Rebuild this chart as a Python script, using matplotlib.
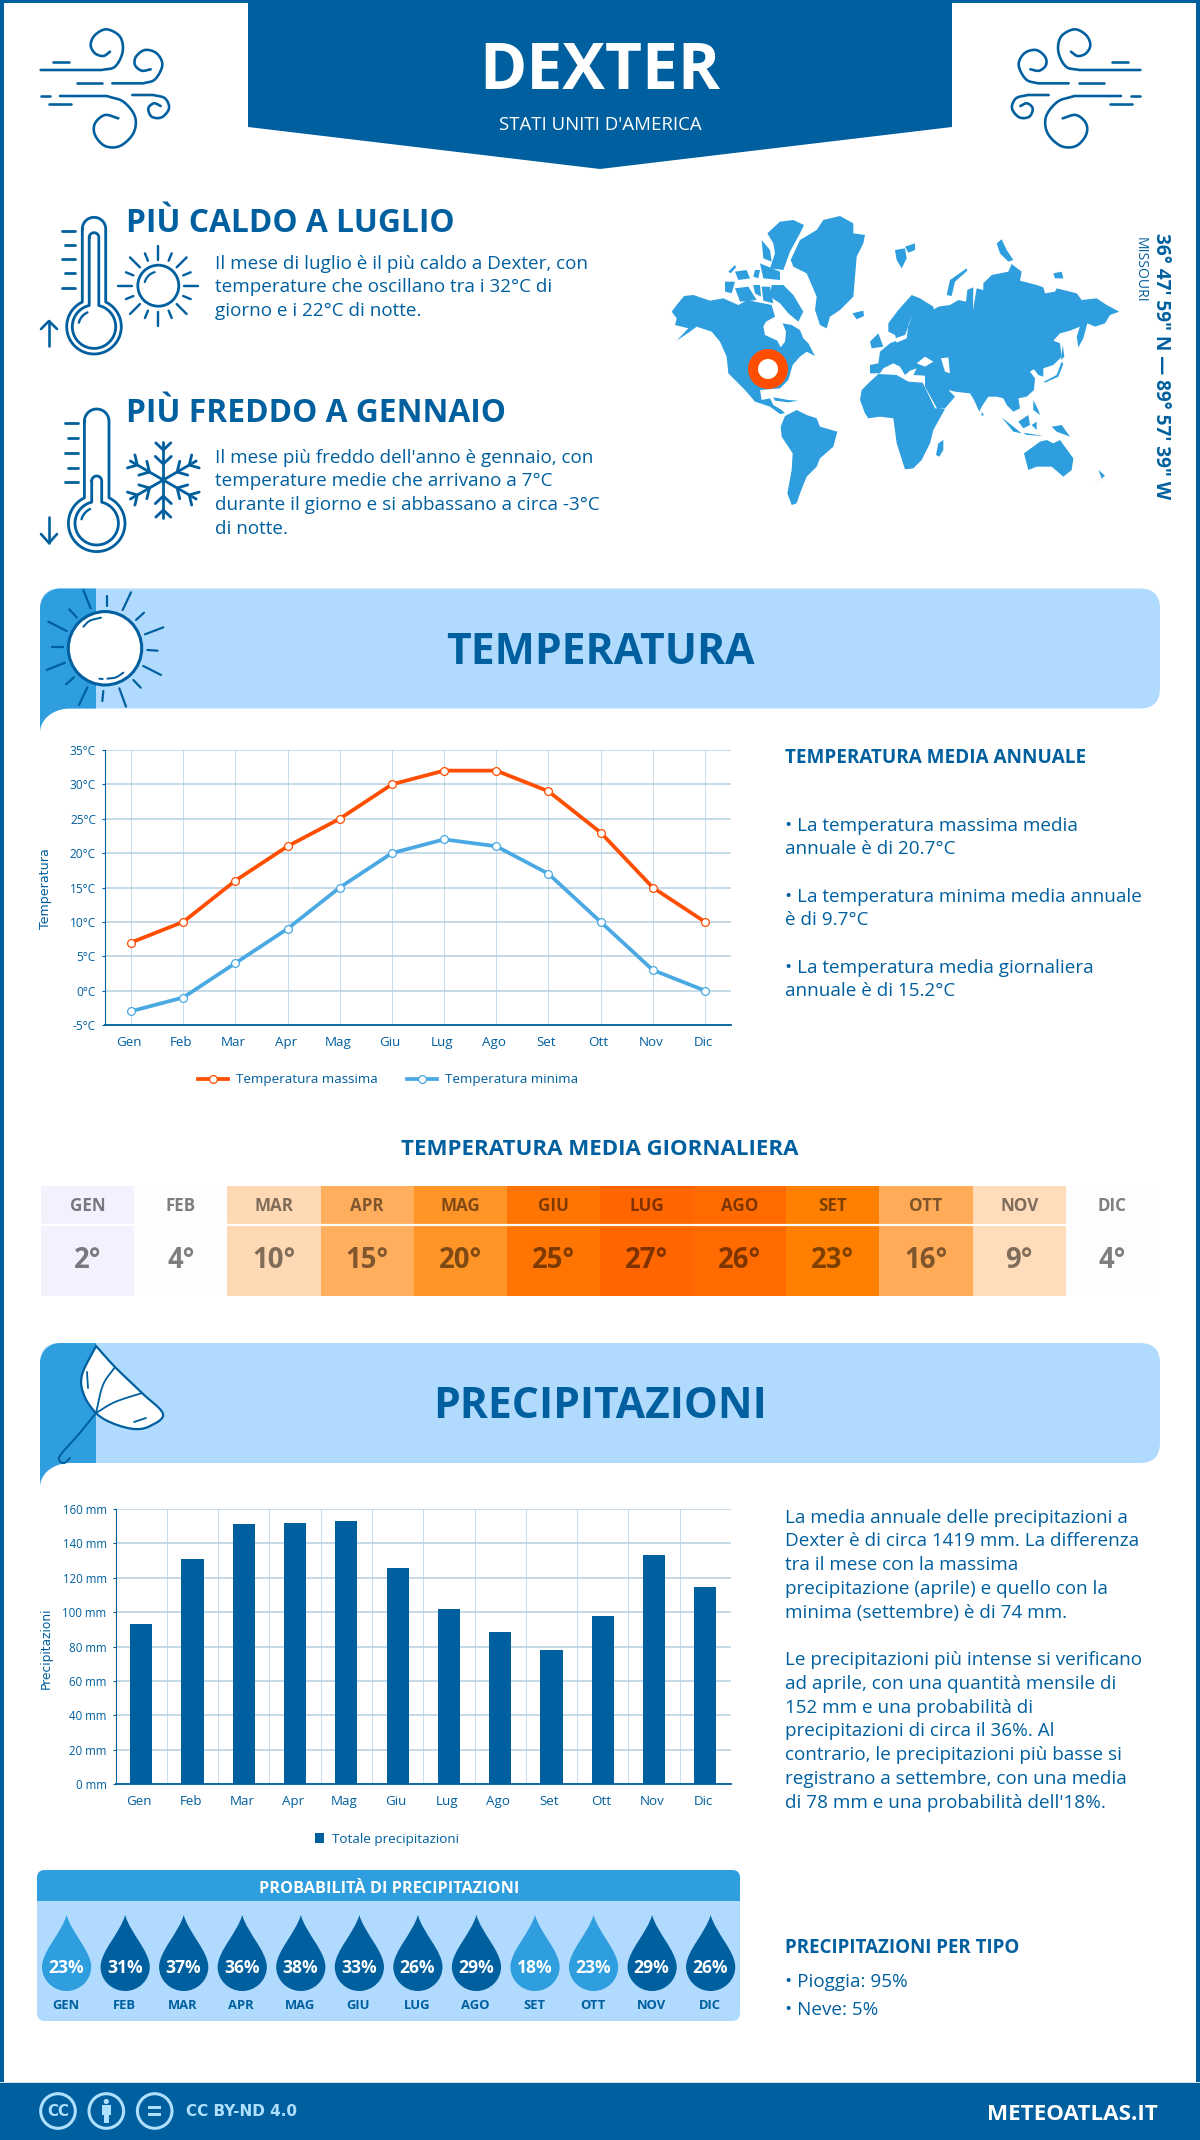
# %%
import numpy as np
import matplotlib

matplotlib.use("Agg")
import matplotlib.pyplot as plt
from matplotlib.colors import LinearSegmentedColormap, Normalize
from matplotlib.patches import Circle, FancyBboxPatch, PathPatch, Polygon, Rectangle
from matplotlib.path import Path
from matplotlib.transforms import ScaledTranslation

plt.rcParams["font.family"] = ["Open Sans", "DejaVu Sans"]

# %% data
months = ["Gen", "Feb", "Mar", "Apr", "Mag", "Giu", "Lug", "Ago", "Set", "Ott", "Nov", "Dic"]
months_upper = ["GEN", "FEB", "MAR", "APR", "MAG", "GIU", "LUG", "AGO", "SET", "OTT", "NOV", "DIC"]
temp_max = [7, 10, 16, 21, 25, 30, 32, 32, 29, 23, 15, 10]
temp_min = [-3, -1, 4, 9, 15, 20, 22, 21, 17, 10, 3, 0]
temp_ticks = [-5, 0, 5, 10, 15, 20, 25, 30, 35]
temp_daily = [2, 4, 10, 15, 20, 25, 27, 26, 23, 16, 9, 4]
rain_mm = [93.3, 131, 151.5, 152, 153.2, 125.9, 102, 88.6, 78, 98, 133.4, 114.8]
rain_ticks = [0, 20, 40, 60, 80, 100, 120, 140, 160]
rain_prob = [23, 31, 37, 36, 38, 33, 26, 29, 18, 23, 29, 26]

heat_values = [2, 4, 9, 10, 15, 16, 20, 23, 25, 26, 27]
heat_colors = ["#f2f2ff", "#fdfdff", "#ffdcb9", "#ffd9b4", "#ffae5e", "#ffab58",
               "#ff9428", "#ff8000", "#ff7503", "#ff6b00", "#ff6600"]

hot_lines = ["Il mese di luglio è il più caldo a Dexter, con",
             "temperature che oscillano tra i 32°C di",
             "giorno e i 22°C di notte."]
cold_lines = ["Il mese più freddo dell'anno è gennaio, con",
              "temperature medie che arrivano a 7°C",
              "durante il giorno e si abbassano a circa -3°C",
              "di notte."]
temp_notes = [(831, "• La temperatura massima media"), (854, "annuale è di 20.7°C"),
              (902, "• La temperatura minima media annuale"), (925, "è di 9.7°C"),
              (973, "• La temperatura media giornaliera"), (996, "annuale è di 15.2°C")]
rain_notes = [(1523, "La media annuale delle precipitazioni a"),
              (1546, "Dexter è di circa 1419 mm. La differenza"),
              (1570, "tra il mese con la massima"),
              (1594, "precipitazione (aprile) e quello con la"),
              (1618, "minima (settembre) è di 74 mm."),
              (1665, "Le precipitazioni più intense si verificano"),
              (1689, "ad aprile, con una quantità mensile di"),
              (1713, "152 mm e una probabilità di"),
              (1736, "precipitazioni di circa il 36%. Al"),
              (1760, "contrario, le precipitazioni più basse si"),
              (1784, "registrano a settembre, con una media"),
              (1808, "di 78 mm e una probabilità dell'18%.")]

# %% colours and page
DARK = "#005f9e"
MID = "#2e9ede"
LIGHT = "#b0dbff"
ORANGE = "#ff4e00"
LINE_BLUE = "#4aa9e2"
GRID = "#b5cfe2"
GRID_V = "#c8dcea"
W, H = 1200, 2140

fig = plt.figure(figsize=(W / 100, H / 100), dpi=100, facecolor="white")
bg = fig.add_axes([0, 0, 1, 1])
bg.set_xlim(0, W)
bg.set_ylim(H, 0)
bg.axis("off")


def px_axes(x0, y0, x1, y1):
    return fig.add_axes([x0 / W, 1 - y1 / H, (x1 - x0) / W, (y1 - y0) / H])


def txt(x, y, s, px, color=DARK, weight="normal", ha="left", va="baseline", ax=None, **kw):
    return (ax or bg).text(x, y, s, fontsize=px * 0.72, color=color, fontweight=weight, ha=ha, va=va, **kw)


def smooth(pts, n=14):
    # catmull-rom through the points, for the curly icons
    p = np.array(pts, dtype=float)
    p = np.vstack([2 * p[0] - p[1], p, 2 * p[-1] - p[-2]])
    out = []
    for i in range(1, len(p) - 2):
        for t in np.linspace(0, 1, n, endpoint=False):
            out.append(0.5 * (2 * p[i] + (p[i + 1] - p[i - 1]) * t
                              + (2 * p[i - 1] - 5 * p[i] + 4 * p[i + 1] - p[i + 2]) * t ** 2
                              + (3 * p[i] - p[i - 1] - 3 * p[i + 1] + p[i + 2]) * t ** 3))
    out.append(p[-2])
    return np.array(out)


def stroke(pts, color=DARK, lw=2.6, zorder=3):
    pts = np.asarray(pts, dtype=float)
    bg.plot(pts[:, 0], pts[:, 1], color=color, lw=lw * 0.72, solid_capstyle="round",
            solid_joinstyle="round", zorder=zorder)


def style_chart(ax, tick_size):
    ax.set_axisbelow(True)
    ax.tick_params(axis="y", labelsize=tick_size, colors=DARK, length=2.5, width=0.8, pad=4)
    ax.tick_params(axis="x", which="both", labelsize=9.6, colors=DARK, length=0, pad=8)
    for s in ["top", "right"]:
        ax.spines[s].set_visible(False)
    ax.spines["bottom"].set_color(DARK)
    ax.spines["bottom"].set_linewidth(1.3)
    ax.spines["left"].set_color(DARK)
    ax.spines["left"].set_linewidth(0.8)
    shift = ScaledTranslation(-2 / 100, 0, fig.dpi_scale_trans)
    for lab in ax.get_xticklabels():
        lab.set_transform(lab.get_transform() + shift)


# frame, banner, footer
bg.add_patch(Rectangle((0, 0), 4, H, color=DARK, lw=0))
bg.add_patch(Rectangle((W - 4, 0), 4, H, color=DARK, lw=0))
bg.add_patch(Rectangle((0, 0), W, 3, color=DARK, lw=0))
bg.add_patch(Polygon([(248, 0), (952, 0), (952, 127), (600, 169), (248, 127)], color=DARK, lw=0))
bg.add_patch(Rectangle((0, 2082), W, 2, color="#d5dfe6", lw=0))
bg.add_patch(Rectangle((0, 2083), W, 57, color=DARK, lw=0))
txt(600, 89, "DEXTER", 64, "white", "bold", ha="center")
txt(600, 130, "STATI UNITI D'AMERICA", 18.7, "white", ha="center")


# %% wind icons
def wind(f):
    parts = [
        [(32, 150), (215, 150), (255, 140), (278, 95), (270, 50), (230, 28), (195, 45), (182, 75), (195, 100), (220, 108), (240, 95)],
        [(247, 190), (340, 190), (375, 178), (397, 135), (380, 100), (345, 90), (318, 110), (315, 135), (335, 152), (362, 148)],
        [(90, 228), (230, 228), (280, 245), (315, 290), (310, 340), (270, 378), (225, 378), (195, 345), (195, 310), (225, 285), (265, 295)],
        [(307, 225), (370, 225), (405, 235), (417, 265), (395, 292), (365, 290), (355, 265), (372, 250), (392, 258)],
    ]
    bars = [[(70, 125), (118, 125)], [(140, 190), (215, 190)], [(32, 228), (60, 228)], [(57, 252), (123, 252)]]
    for part in parts:
        line = smooth(part[1:])
        line = np.vstack([part[0], line]) / 3 + [30, 20]
        stroke(np.c_[f(line[:, 0]), line[:, 1]])
    for bar in bars:
        line = np.array(bar) / 3 + [30, 20]
        stroke(np.c_[f(line[:, 0]), line[:, 1]])


wind(lambda x: x)
wind(lambda x: 1181 - x)


# %% thermometers, sun, snowflake
def therm_outline(cx, top, half, cy, r):
    a = np.arcsin(half / r)
    arc_top = np.linspace(np.pi, 0, 24)
    xs = list(cx + half * np.cos(arc_top))
    ys = list(top + half - half * np.sin(arc_top))
    bulb = np.linspace(a, 2 * np.pi - a, 70)
    xs += list(cx + r * np.sin(bulb))
    ys += list(cy - r * np.cos(bulb))
    xs.append(xs[0])
    ys.append(ys[0])
    return np.c_[xs, ys]


def thermometer(cx, top, half, cy, r, itop, ihalf, ir, tick_ys, arrow_up):
    stroke(therm_outline(cx, top, half, cy, r), lw=2.8)
    stroke(therm_outline(cx, itop, ihalf, cy, ir), lw=2.8)
    arc = np.linspace(np.radians(-75), np.radians(-25), 12)
    stroke(np.c_[cx + (ir - 6) * np.cos(arc + np.pi / -2), cy + (ir - 6) * np.sin(arc + np.pi / -2)], lw=2.4)
    for i, y in enumerate(tick_ys):
        stroke([(cx - 32 if i % 2 == 0 else cx - 29, y), (cx - 19, y)], lw=2.8)
    ax_x = 49
    if arrow_up:
        stroke([(ax_x, 346), (ax_x, 321)])
        stroke([(ax_x - 8, 329), (ax_x, 321), (ax_x + 8, 329)])
    else:
        stroke([(ax_x, 517), (ax_x, 543)])
        stroke([(ax_x - 8, 534), (ax_x, 543), (ax_x + 8, 534)])


thermometer(94, 217.3, 11.7, 326.7, 27.3, 232.7, 4.8, 21.7, [231, 245, 259, 273, 288], True)
thermometer(96.7, 409, 12.3, 523.3, 28.3, 476, 5, 21.7, [423, 438, 453, 468, 482], False)

# small sun next to the hot thermometer
sun_c = np.array([158.3, 285.7])
bg.add_patch(Circle(sun_c, 20.5, fill=False, ec=DARK, lw=2.0))
arc = np.radians(np.linspace(195, 255, 10))
stroke(sun_c + 14 * np.c_[np.cos(arc), np.sin(arc)], lw=2.2)
for k in range(16):
    ang = np.radians(k * 22.5)
    r0, r1 = (26, 40) if k % 2 == 0 else (27, 35)
    u = np.array([np.cos(ang), np.sin(ang)])
    stroke([sun_c + r0 * u, sun_c + r1 * u], lw=2.4)

# snowflake
snow_c = np.array([163.3, 480])
for k in range(6):
    ang = np.radians(90 + k * 60)
    u = np.array([np.cos(ang), np.sin(ang)])
    v = np.array([-u[1], u[0]])
    stroke([snow_c, snow_c + 38 * u], lw=2.8)
    for dist, size in [(30, 7.5), (16, 8)]:
        base = snow_c + dist * u
        stroke([base - size * v + size * 0.95 * u, base, base + size * v + size * 0.95 * u], lw=2.8)

txt(126, 232, "PIÙ CALDO A LUGLIO", 31.8, weight="bold")
txt(126, 422, "PIÙ FREDDO A GENNAIO", 31.8, weight="bold")
for y, s in zip([269, 292, 316], hot_lines):
    txt(215, y, s, 18.9)
for y, s in zip([463, 486, 510, 534], cold_lines):
    txt(215, y, s, 18.9)

# %% world map, shapes traced by eye in zoomed map coordinates
amer = [
    [(35, 305), (50, 285), (72, 258), (100, 255), (150, 272), (190, 265), (235, 285), (262, 270), (300, 278), (335, 285), (345, 320), (318, 335), (310, 350), (315, 375), (352, 392), (362, 412), (375, 395), (378, 365), (368, 340), (395, 345), (420, 360), (430, 385), (445, 400), (465, 438), (440, 425), (420, 440), (398, 465), (385, 510), (360, 535), (300, 540), (305, 570), (330, 565), (340, 585), (365, 600), (375, 610), (360, 612), (330, 590), (285, 575), (255, 540), (225, 510), (205, 490), (200, 440), (180, 395), (155, 365), (110, 350), (90, 365), (50, 392), (85, 355), (45, 345), (50, 325)],
    [(362, 650), (375, 618), (410, 600), (440, 615), (470, 625), (480, 650), (532, 665), (520, 710), (480, 745), (470, 770), (440, 800), (420, 850), (410, 880), (395, 885), (382, 850), (395, 780), (398, 730), (365, 680)],
    [(392, 150), (420, 90), (470, 60), (490, 30), (540, 18), (580, 40), (580, 70), (615, 75), (610, 100), (590, 140), (580, 260), (540, 300), (510, 320), (500, 355), (480, 345), (465, 300), (470, 260), (440, 190), (400, 170)],
    [(322, 70), (360, 35), (400, 30), (432, 45), (420, 70), (390, 125), (370, 180), (330, 175), (345, 130), (340, 100)],
    [(335, 225), (370, 225), (400, 255), (430, 305), (415, 335), (385, 310), (360, 280), (330, 260)],
    [(305, 230), (330, 230), (340, 280), (310, 272)],
    [(225, 185), (260, 180), (270, 205), (235, 210)],
    [(195, 215), (225, 215), (215, 250), (195, 245)],
    [(225, 235), (265, 230), (290, 270), (240, 275)],
    [(285, 180), (300, 180), (295, 205), (280, 200)],
    [(305, 90), (330, 120), (335, 155), (310, 145)],
    [(205, 185), (225, 165), (228, 172), (212, 190)],
    [(300, 160), (360, 185), (360, 210), (310, 205)],
    [(280, 225), (300, 225), (303, 260), (285, 250)],
    [(340, 562), (385, 570), (415, 572), (385, 577), (345, 572)],
    [(577, 310), (610, 302), (612, 318), (590, 328)],
]
asia = [
    [(-30, 490), (-30, 465), (-5, 460), (0, 425), (30, 400), (50, 392), (45, 375), (25, 365), (25, 340), (55, 300), (95, 255), (120, 265), (160, 290), (163, 310), (150, 322), (135, 320), (150, 305), (175, 290), (210, 285), (235, 270), (258, 275), (262, 240), (280, 232), (279, 300), (290, 235), (310, 240), (310, 220), (335, 195), (385, 185), (395, 162), (425, 185), (420, 212), (470, 225), (490, 232), (495, 250), (525, 245), (530, 235), (590, 250), (605, 270), (650, 265), (680, 285), (718, 305), (690, 315), (675, 340), (645, 350), (622, 340), (610, 385), (595, 412), (590, 380), (600, 350), (570, 362), (540, 370), (520, 392), (540, 400), (545, 440), (520, 465), (490, 475), (490, 500), (475, 495), (462, 478), (450, 485), (465, 505), (462, 540), (440, 560), (415, 565), (420, 595), (400, 605), (380, 585), (370, 565), (350, 560), (325, 560), (305, 590), (298, 605), (282, 570), (270, 550), (225, 545), (205, 540), (190, 525), (225, 560), (195, 595), (172, 597), (135, 530), (135, 497), (100, 495), (110, 475), (90, 482), (75, 495), (60, 470), (40, 460), (10, 475), (0, 490)],
    [(-60, 570), (-55, 540), (-30, 515), (-5, 492), (50, 495), (85, 515), (128, 518), (165, 595), (195, 597), (160, 660), (150, 700), (125, 750), (100, 775), (75, 778), (50, 700), (40, 625), (0, 620), (-35, 625), (-45, 610)],
    [(168, 735), (175, 700), (190, 690), (190, 720), (178, 740)],
    [(432, 730), (480, 695), (500, 690), (520, 700), (540, 690), (580, 745), (575, 780), (550, 800), (515, 770), (470, 770), (445, 780)],
    [(632, 835), (660, 810), (675, 797), (655, 780), (665, 805)],
    [(365, 622), (400, 650), (425, 670), (400, 665)],
    [(415, 635), (445, 615), (450, 645), (430, 655)],
    [(430, 668), (490, 678), (440, 675)],
    [(515, 650), (545, 645), (570, 680), (530, 665)],
    [(455, 645), (470, 635), (470, 660)],
    [(460, 570), (475, 600), (480, 615), (460, 600)],
    [(305, 605), (312, 615), (305, 618)],
    [(492, 515), (530, 495), (545, 455), (550, 462), (535, 500), (495, 518)],
    [(548, 405), (553, 440), (543, 450)],
    [(200, 255), (210, 210), (260, 175), (262, 182), (225, 215), (215, 258)],
    [(45, 120), (75, 115), (80, 145), (65, 175), (50, 150)],
    [(75, 110), (105, 100), (105, 120), (85, 128)],
    [(350, 100), (365, 88), (380, 120), (400, 150), (385, 155), (360, 130)],
    [(520, 190), (545, 185), (550, 205), (525, 205)],
    [(-30, 395), (-5, 370), (10, 410), (-25, 415)],
]
seas = [
    [(110, 460), (135, 440), (160, 455), (135, 470)],
    [(183, 445), (205, 442), (210, 490), (195, 485)],
    [(45, 385), (75, 375), (100, 310), (85, 345), (80, 385), (50, 398)],
]
for poly in amer:
    bg.add_patch(Polygon(np.array(poly) / 3 + [660, 210], color=MID, lw=0))
for poly in asia:
    bg.add_patch(Polygon(np.array(poly) / 3 + [880, 210], color=MID, lw=0))
for poly in seas:
    bg.add_patch(Polygon(np.array(poly) / 3 + [880, 210], color="white", lw=0))
bg.add_patch(Circle((768, 369), 20, color=ORANGE, lw=0, zorder=4))
bg.add_patch(Circle((768, 369), 10, color="white", lw=0, zorder=4))
txt(1160.5, 366, "36° 47' 59\" N — 89° 57' 39\" W", 19, weight="bold", rotation=270, ha="center", va="center")
txt(1140, 237, "MISSOURI", 14, rotation=270, ha="center", va="top")


# %% section headers
def section(y0, title):
    y1 = y0 + 120
    bg.add_patch(FancyBboxPatch((40, y0), 1120, 120, boxstyle="round,pad=0,rounding_size=20", color=LIGHT, lw=0))
    corner = np.radians(np.linspace(180, 270, 12))
    top = [(60 + 20 * np.cos(a), y0 + 20 + 20 * np.sin(a)) for a in corner]
    sweep = np.radians(np.linspace(90, 0, 16))
    curve = [(70 - 30 * np.cos(a), y1 + 24 - 24 * np.sin(a)) for a in sweep]
    bg.add_patch(Polygon(top + [(96, y0), (96, y1)] + curve, color=MID, lw=0))
    txt(600, y0 + 75, title, 42.6, weight="bold", ha="center")


section(588.5, "TEMPERATURA")
section(1343, "PRECIPITAZIONI")
bg.add_patch(Circle((105, 648.3), 36.7, fc="white", ec=DARK, lw=2.2, zorder=3))
rays = [((160, 30), (182, 85)), ((118, 88), (140, 112)), ((55, 125), (110, 153)), ((67, 200), (98, 200)),
        ((50, 270), (105, 248)), ((108, 313), (132, 292)), ((147, 375), (172, 322)), ((217, 363), (220, 333)),
        ((268, 325), (288, 380)), ((310, 300), (332, 323)), ((340, 258), (393, 285)), ((352, 210), (383, 212)),
        ((345, 163), (400, 142)), ((318, 120), (342, 98)), ((278, 90), (303, 37)), ((230, 78), (230, 47))]
for a, b in rays:
    stroke(np.array([a, b]) / 3 + [30, 580], lw=2.2)
stroke(np.array([(208, 296), (218, 297)]) / 3 + [30, 580], lw=2.0, zorder=4)
stroke(smooth([(160, 140), (180, 122), (213, 113)]) / 3 + [30, 580], lw=2.0, zorder=4)
stroke(smooth([(232, 296), (258, 292), (280, 278)]) / 3 + [30, 580], lw=2.0, zorder=4)

# umbrella
canopy = smooth([(96, 1346), (115, 1367), (142, 1393), (163, 1414), (150, 1426), (134, 1429), (112, 1423), (96, 1413), (84, 1395), (82, 1375), (96, 1346)])
bg.add_patch(Polygon(canopy, fc="white", ec=DARK, lw=1.6, zorder=3))
stroke(smooth([(96, 1413), (115, 1402), (142, 1393)]), lw=1.8, zorder=4)
stroke(smooth([(115, 1367), (103, 1385), (96, 1413)]), lw=1.8, zorder=4)
stroke(smooth([(96, 1413), (78, 1435), (62, 1453), (59, 1460), (64, 1463), (70, 1458)]), lw=2, zorder=4)
stroke([(87, 1372), (88, 1388)], lw=1.8, zorder=4)
stroke([(134, 1422), (146, 1418)], lw=1.8, zorder=4)

# %% temperature chart
ax = px_axes(105, 750, 731, 1025)
ax.set_xlim(-0.5, 11.5)
ax.set_ylim(-5, 35)
x = np.arange(12)
ax.plot(x, temp_max, color=ORANGE, lw=2.7, marker="o", ms=5.6, mfc="white", mec=ORANGE, mew=0.9,
        clip_on=False, zorder=4, label="Temperatura massima")
ax.plot(x, temp_min, color=LINE_BLUE, lw=2.7, marker="o", ms=5.6, mfc="white", mec=LINE_BLUE, mew=0.9,
        clip_on=False, zorder=4, label="Temperatura minima")
ax.set_xticks(x, months)
ax.set_yticks(temp_ticks, [f"{t}°C" for t in temp_ticks])
ax.grid(axis="y", color=GRID, lw=1.1)
ax.grid(axis="x", color=GRID_V, lw=0.7)
style_chart(ax, 8.6)
txt(46, 889, "Temperatura", 12.6, rotation=90, ha="center", va="center", family="DejaVu Sans")
fig.legend(*ax.get_legend_handles_labels(), loc="center", bbox_to_anchor=(388 / W, 1 - 1080 / H),
           ncol=2, frameon=False, fontsize=9.7, labelcolor=DARK, handlelength=2.2, handletextpad=0.6,
           columnspacing=2.2)

txt(785, 763, "TEMPERATURA MEDIA ANNUALE", 18.9, weight="bold")
for y, s in temp_notes:
    txt(785, y, s, 18.9)

# %% daily temperature table
txt(600, 1155, "TEMPERATURA MEDIA GIORNALIERA", 22.3, weight="bold", ha="center")
ax = px_axes(41, 1186, 1159, 1296)
span = heat_values[-1] - heat_values[0]
cmap = LinearSegmentedColormap.from_list(
    "heat", [((v - heat_values[0]) / span, c) for v, c in zip(heat_values, heat_colors)])
ax.pcolormesh(np.arange(13), [0, 39, 110], np.vstack([temp_daily, temp_daily]), cmap=cmap,
              norm=Normalize(heat_values[0], heat_values[-1]))
ax.set_xlim(0, 12)
ax.set_ylim(110, 0)
ax.axis("off")
ax.axhline(39, color="white", lw=1.6)
for i, (m, t) in enumerate(zip(months_upper, temp_daily)):
    txt(i + 0.5, 20, m, 17, "black", "bold", ha="center", va="center", ax=ax, alpha=0.5)
    txt(i + 0.5, 75, f"{t}°", 27.5, "black", "bold", ha="center", va="center", ax=ax, alpha=0.5)

# %% precipitation chart
ax = px_axes(115.6, 1509, 731, 1784)
ax.set_xlim(-0.5, 11.5)
ax.set_ylim(0, 160)
ax.bar(np.arange(12), rain_mm, width=0.43, color=DARK, zorder=3, label="Totale precipitazioni")
ax.set_xticks(np.arange(12), months)
ax.set_xticks(np.arange(13) - 0.5, minor=True)
ax.set_yticks(rain_ticks, [f"{t} mm" for t in rain_ticks])
ax.grid(axis="y", color=GRID, lw=1.1)
ax.grid(axis="x", which="minor", color=GRID_V, lw=0.7)
style_chart(ax, 8.3)
txt(46, 1648, "Precipitazioni", 12.2, rotation=90, ha="center", va="center", family="DejaVu Sans")
fig.legend(*ax.get_legend_handles_labels(), loc="center", bbox_to_anchor=(387 / W, 1 - 1839 / H),
           frameon=False, fontsize=9.7, labelcolor=DARK, handlelength=0.6, handleheight=0.8, handletextpad=0.6)

for y, s in rain_notes:
    txt(785, y, s, 18.9)

# %% probability panel
panel = FancyBboxPatch((37, 1870), 703, 151, boxstyle="round,pad=0,rounding_size=8", color=LIGHT, lw=0)
bg.add_patch(panel)
head = Rectangle((37, 1870), 703, 31, color=MID, lw=0)
bg.add_patch(head)
head.set_clip_path(panel)
txt(389, 1893, "PROBABILITÀ DI PRECIPITAZIONI", 16.3, "white", "bold", ha="center")

drop_verts = [(0, 0), (5, 18), (24.6, 36), (24.6, 52), (24.6, 65), (13.6, 76), (0, 76),
              (-13.6, 76), (-24.6, 65), (-24.6, 52), (-24.6, 36), (-5, 18), (0, 0)]
drop_codes = [Path.MOVETO] + [Path.CURVE4] * 12
for i, (p, m) in enumerate(zip(rain_prob, months_upper)):
    cx = 66.6 + 58.55 * i
    verts = np.array(drop_verts) + [cx, 1915]
    bg.add_patch(PathPatch(Path(verts, drop_codes), color=MID if p <= 23 else DARK, lw=0))
    txt(cx - 0.5, 1973, f"{p}%", 17.5, "white", "bold", ha="center")
    txt(cx - 1, 2009, m, 13, DARK, "bold", ha="center")

txt(785, 1953, "PRECIPITAZIONI PER TIPO", 18.8, weight="bold")
txt(785, 1987, "• Pioggia: 95%", 18.9)
txt(785, 2015, "• Neve: 5%", 18.9)

# %% footer
CC = "#b0e0ff"
for cx in [58, 106.3, 154.7]:
    bg.add_patch(Circle((cx, 2111), 17.3, fill=False, ec=CC, lw=2.2))
txt(58, 2111.5, "CC", 15, CC, "bold", ha="center", va="center", family="DejaVu Sans")
bg.add_patch(Circle((106.3, 2101.5), 2.6, color=CC, lw=0))
bg.add_patch(Rectangle((101.5, 2105), 9.6, 10, color=CC, lw=0))
bg.add_patch(Rectangle((103.5, 2114), 5.6, 9, color=CC, lw=0))
bg.add_patch(Rectangle((148, 2105.5), 13.4, 3.4, color=CC, lw=0))
bg.add_patch(Rectangle((148, 2112.5), 13.4, 3.4, color=CC, lw=0))
txt(186, 2112, "CC BY-ND 4.0", 15.3, CC, "bold", va="center", family="DejaVu Sans")
txt(1158, 2120, "METEOATLAS.IT", 22.4, "white", "bold", ha="right")

fig.savefig("out.png", dpi=100, facecolor="white")
